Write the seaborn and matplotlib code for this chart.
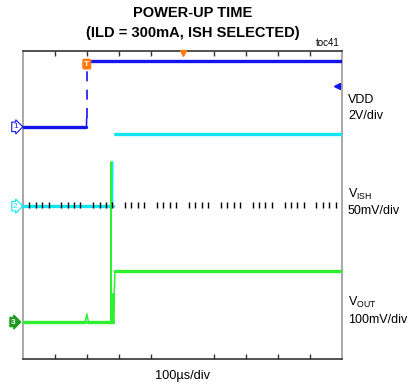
import numpy as np
import pandas as pd
import matplotlib
matplotlib.use("Agg")
import matplotlib.pyplot as plt
import seaborn as sns

# scope traces, time in us, level in screen divisions (center line = 0)
vdd_lo_t = [0, 199, 199.5]
vdd_lo_v = [2.03, 2.03, 2.26]
vdd_edge_t = [200, 200]
vdd_edge_v = [2.26, 3.72]
vdd_hi_t = [201, 1000]
vdd_hi_v = [3.74, 3.74]

vish_lo_t = [0, 281, 281.5]
vish_lo_v = [-0.03, -0.03, 1.12]
vish_hi_t = [288, 1000]
vish_hi_v = [1.84, 1.84]

vout_t = [0, 195, 200, 205, 275, 276, 277, 282, 283, 284, 288, 1000]
vout_v = [-3.04, -3.04, -2.83, -3.04, -3.04, 1.12, -3.04, -3.04, -2.3, -3.04, -1.71, -1.71]

major_ticks = [100, 200, 300, 400, 600, 700, 800, 900]

BLUE = "#1414f0"
CYAN = "#12e6f5"
GREEN = "#2ef02e"
ORANGE = "#ff7a10"

sns.set_style("white")
plt.rcParams['font.family'] = ['Liberation Sans', 'DejaVu Sans']
plt.rcParams['text.color'] = 'black'

W, H = 408, 387
fig = plt.figure(figsize=(W / 100, H / 100), dpi=100)
ax = fig.add_axes([23 / W, 1 - 359 / H, 319 / W, 308 / H])


def trace(t, v, color, ax):
    # thin line through every point, thick noisy-looking band on flat parts
    sns.lineplot(x=t, y=v, sort=False, estimator=None, color=color, lw=1.1, ax=ax, zorder=3)
    for i in range(len(t) - 1):
        if v[i] == v[i + 1]:
            sns.lineplot(x=[t[i], t[i + 1]], y=[v[i], v[i + 1]], sort=False, estimator=None,
                         color=color, lw=2.4, ax=ax, zorder=3)


trace(vish_lo_t, vish_lo_v, CYAN, ax)
trace(vish_hi_t, vish_hi_v, CYAN, ax)
trace(vout_t, vout_v, GREEN, ax)
trace(vdd_lo_t, vdd_lo_v, BLUE, ax)
trace(vdd_hi_t, vdd_hi_v, BLUE, ax)
ax.plot(vdd_edge_t, vdd_edge_v, color=BLUE, lw=1.2, dashes=(6, 5), zorder=4)

ax.set_xlim(0, 1000)
ax.set_ylim(-4, 4)
ax.set_xticks([])
ax.set_yticks([])
ax.set_xlabel("")
ax.set_ylabel("")

for side in ["left", "right"]:
    ax.spines[side].set_color("#9a9a9a")
    ax.spines[side].set_linewidth(1.2)
for side in ["top", "bottom"]:
    ax.spines[side].set_color("#333333")
    ax.spines[side].set_linewidth(1.2)

# graticule ticks on top / bottom edges and on center line
ax.vlines(major_ticks, 3.88, 4, color="#333333", lw=1, clip_on=False)
ax.vlines(major_ticks, -4, -3.88, color="#333333", lw=1, clip_on=False)
minor = [t for t in range(20, 1000, 20) if t % 100]
ax.vlines(minor, -0.09, 0.09, color="black", lw=1, zorder=5)

# markers
ax.plot([500], [3.95], marker="v", color=ORANGE, ms=5, clip_on=False, zorder=6)
ax.plot([984], [3.09], marker="<", color=BLUE, ms=5, clip_on=False, zorder=6)
ax.text(200, 3.66, "T", color="white", fontsize=6, fontweight="bold",
        ha="center", va="center", zorder=7,
        bbox=dict(boxstyle="round,pad=0.15", fc=ORANGE, ec=ORANGE))
ax.text(-24, 2.03, "1", color=BLUE, fontsize=6, ha="center", va="center",
        clip_on=False, bbox=dict(boxstyle="rarrow,pad=0.15", fc="white", ec=BLUE, lw=0.8))
ax.text(-24, -0.03, "2", color=CYAN, fontsize=6, ha="center", va="center",
        clip_on=False, bbox=dict(boxstyle="rarrow,pad=0.15", fc="white", ec=CYAN, lw=0.8))
ax.text(-30, -3.04, "3", color="white", fontsize=6, fontweight="bold", ha="center", va="center",
        clip_on=False, bbox=dict(boxstyle="rarrow,pad=0.15", fc="#1f9a1f", ec="#1f9a1f", lw=0.8))


def ftext(px, py, s, **kw):
    fig.text(px / W, 1 - py / H, s, **kw)


ftext(193, 13, "POWER-UP TIME", fontsize=10.5, fontweight="bold", ha="center", va="center")
ftext(193, 33, "(ILD = 300mA, ISH SELECTED)", fontsize=10.5, fontweight="bold", ha="center", va="center")
ftext(340, 43, "toc41", fontsize=7, ha="right", va="center")
ftext(348, 100, "VDD", fontsize=9, ha="left", va="center")
ftext(348, 116, "2V/div", fontsize=9, ha="left", va="center")
ftext(348, 194, r"V$_{\mathregular{ISH}}$", fontsize=9, ha="left", va="center")
ftext(348, 211, "50mV/div", fontsize=9, ha="left", va="center")
ftext(348, 302, r"V$_{\mathregular{OUT}}$", fontsize=9, ha="left", va="center")
ftext(348, 320, "100mV/div", fontsize=9, ha="left", va="center")
ftext(183, 376, "100\u00b5s/div", fontsize=9.2, ha="center", va="center")

fig.savefig("out.png", dpi=100)
